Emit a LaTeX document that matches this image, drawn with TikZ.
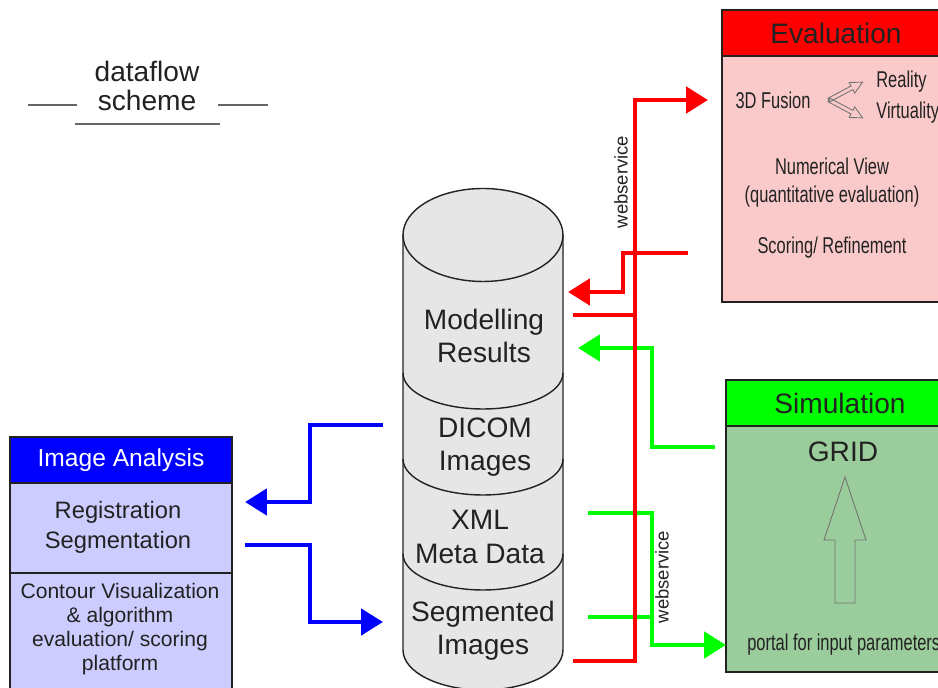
\documentclass[tikz,border=0pt]{standalone}
\usepackage{fontspec}
\setmainfont{Liberation Sans}
\newfontfamily\narrowsf[FakeStretch=0.72]{Liberation Sans}
\usetikzlibrary{arrows.meta}

\definecolor{evalred}{RGB}{255,0,0}
\definecolor{evalpink}{RGB}{250,202,202}
\definecolor{simgreen}{RGB}{0,255,0}
\definecolor{simbody}{RGB}{155,204,155}
\definecolor{iablue}{RGB}{0,0,255}
\definecolor{iabody}{RGB}{204,204,255}
\definecolor{dbgray}{RGB}{230,230,230}
\definecolor{inkgray}{RGB}{34,34,34}

\begin{document}
\begin{tikzpicture}[
        x=0.02cm, y=-0.02cm,
        box/.style={
            draw=inkgray,
            line width=0.8pt,
            anchor=north west,
            inner sep=0pt,
            outer sep=0pt,
            text=inkgray
        },
        hdr/.style={box, minimum height=0.92cm, font=\fontsize{16}{18}\selectfont},
        txt/.style={text=inkgray, align=center, inner sep=0pt},
        narrowtxt/.style={txt, font=\narrowsf\fontsize{13}{15}\selectfont},
        dbtxt/.style={txt, font=\fontsize{16}{19}\selectfont},
        dbshape/.style={draw=inkgray, line width=0.8pt, fill=dbgray},
        outlinearrow/.style={draw=black!55, line width=0.5pt},
        flow/.style={line width=2.8pt},
        flowtip/.style={flow, -{Triangle[length=0.44cm, width=0.52cm]}}
    ]
        \useasboundingbox (0,0) rectangle (938,688);
        \clip (0,0) rectangle (938,688);

        % title
        \node[txt, font=\fontsize{16}{17}\selectfont] (title) at (147,86) {dataflow\\scheme};
        \draw[black!60, line width=0.6pt] (28,105) -- (77,105);
        \draw[black!60, line width=0.6pt] (218,105) -- (268,105);
        \draw[black!60, line width=0.8pt] (75,124) -- (220,124);

        % boxes
        \node[hdr, fill=evalred, minimum width=4.56cm] (evalhead) at (722,10) {Evaluation};
        \node[box, fill=evalpink, minimum width=4.56cm, minimum height=4.92cm] (evalbody)
            at (evalhead.south west) {};
        \node[hdr, fill=simgreen, minimum width=4.56cm] (simhead) at (726,380) {Simulation};
        \node[box, fill=simbody, minimum width=4.56cm, minimum height=4.92cm] (simbox)
            at (simhead.south west) {};
        \node[hdr, fill=iablue, text=white, minimum width=4.44cm,
            font=\fontsize{14}{16}\selectfont] (iahead) at (10,437) {Image Analysis};
        \node[box, fill=iabody, minimum width=4.44cm, minimum height=1.8cm] (iareg)
            at (iahead.south west) {};
        \node[box, fill=iabody, minimum width=4.44cm, minimum height=2.6cm] (iacont)
            at (iareg.south west) {};

        % box texts
        \node[narrowtxt] (fusion) at (773,100) {3D Fusion};
        \node[narrowtxt, anchor=west] (reality) at (876,82) {Reality};
        \node[narrowtxt, anchor=west] (virtuality) at (876,113) {Virtuality};
        \foreach \ang in {28,-28}
            \draw[outlinearrow, shift={(829,100)}, rotate=\ang]
                (0,-2) -- (26,-2) -- (26,-6) -- (38,0) -- (26,6) -- (26,2) -- (0,2) -- cycle;
        \node[narrowtxt] (numview) at (832,166) {Numerical View};
        \node[narrowtxt] (quant) at (832,197) {(quantitative evaluation)};
        \node[narrowtxt] (scoring) at (832,248) {Scoring/ Refinement};

        \node[txt, font=\fontsize{16}{18}\selectfont] (grid) at (843,452) {GRID};
        \draw[outlinearrow] (845,477) -- (866,540) -- (855,540) -- (855,603)
            -- (835,603) -- (835,540) -- (824,540) -- cycle;
        \node[narrowtxt, anchor=west] (portal) at (747,645) {portal for input parameters};

        \node[txt, font=\fontsize{13.5}{17}\selectfont] (regseg) at (118,527)
            {Registration\\Segmentation};
        \node[txt, font=\fontsize{12}{13.6}\selectfont] (contour) at (120,629)
            {Contour Visualization\\\& algorithm\\evaluation/ scoring\\platform};

        % database cylinder
        \filldraw[dbshape] (403,235) -- (403,650)
            arc[start angle=180, end angle=360, x radius=1.6cm, y radius=0.8cm]
            -- (563,235) -- cycle;
        \filldraw[dbshape] (483,235) ellipse [x radius=1.6cm, y radius=0.93cm];
        \foreach \yy in {373,459,554}
            \draw[dbshape, fill=none] (403,\yy)
                arc[start angle=180, end angle=360, x radius=1.6cm, y radius=0.72cm];
        \node[dbtxt] (modelling) at (484,336) {Modelling\\Results};
        \node[dbtxt] (dicom) at (485,447) {DICOM\\Images};
        \node[dbtxt] (xml) at (480,537) {XML\\Meta Data};
        \node[dbtxt] (segm) at (483,631) {Segmented\\Images};

        % connector ends
        \coordinate (modOut) at (573,315);
        \coordinate (modIn) at (568,292);
        \coordinate (modInB) at (578,348);
        \coordinate (dicomOut) at (383,425);
        \coordinate (xmlOut) at (588,513);
        \coordinate (segOut) at (588,617);
        \coordinate (segIn) at (383,622);
        \coordinate (segOutR) at (573,661);
        \coordinate (evalIn) at (708,100);
        \coordinate (evalOut) at (688,253);
        \coordinate (simOut) at (715,447);
        \coordinate (portalIn) at (726,645);
        \coordinate (iaIn) at (245,502);
        \coordinate (iaOut) at (245,545);
        \coordinate (redBus) at (635,100);
        \coordinate (redBack) at (623,292);
        \coordinate (greenUp) at (652,348);
        \coordinate (greenDown) at (652,645);
        \coordinate (blueUp) at (310,502);
        \coordinate (blueDown) at (310,622);

        % blue
        \draw[flowtip, iablue] (dicomOut) -| (blueUp) -- (iaIn);
        \draw[flowtip, iablue] (iaOut) -| (blueDown) -- (segIn);
        % green
        \draw[flowtip, simgreen] (simOut) -| (greenUp) -- (modInB);
        \draw[flowtip, simgreen] (xmlOut) -| (greenDown) -- (portalIn);
        \draw[flow, simgreen] (segOut) -- (segOut -| greenDown);
        % red
        \draw[flowtip, evalred] (segOutR) -| (redBus) -- (evalIn);
        \draw[flow, evalred] (modOut) -- (modOut -| redBus);
        \draw[flowtip, evalred] (evalOut) -| (redBack) -- (modIn);

        \node[txt, rotate=90, font=\fontsize{10.5}{12}\selectfont] (wsTop) at (621,182) {webservice};
        \node[txt, rotate=90, font=\fontsize{10.5}{12}\selectfont] (wsBottom) at (662,577) {webservice};
    \end{tikzpicture}
\end{document}
